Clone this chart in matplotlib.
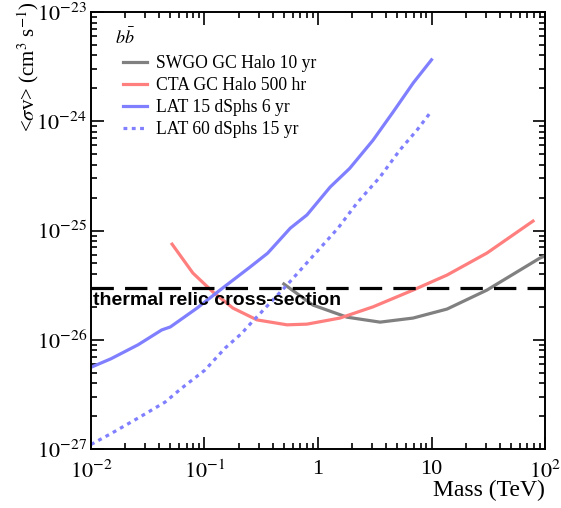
import matplotlib.pyplot as plt
from matplotlib.ticker import LogLocator, FixedLocator, FixedFormatter, NullFormatter

plt.rcParams['font.family'] = ['Liberation Serif', 'DejaVu Serif']
plt.rcParams['mathtext.fontset'] = 'stix'

# LAT 15 dSphs 6 yr
lat15_mass = [0.01, 0.015, 0.026, 0.042, 0.05, 0.086, 0.137, 0.25, 0.36, 0.57, 0.8, 1.28, 1.9, 3.05, 4.6, 6.9, 10]
lat15_sv = [5.6e-27, 6.7e-27, 9.0e-27, 1.23e-26, 1.31e-26, 1.95e-26, 2.85e-26, 4.6e-26, 6.2e-26,
            1.05e-25, 1.39e-25, 2.5e-25, 3.7e-25, 6.7e-25, 1.22e-24, 2.24e-24, 3.65e-24]

# LAT 60 dSphs 15 yr
lat60_mass = [0.01, 0.0153, 0.026, 0.045, 0.063, 0.101, 0.152, 0.214, 0.237, 0.533, 1.5, 2.21, 3.52, 5.27, 7.45, 10]
lat60_sv = [1.1e-27, 1.4e-27, 1.92e-27, 2.69e-27, 3.61e-27, 5.28e-27, 8.4e-27, 1.15e-26, 1.3e-26,
            3.17e-26, 1.05e-25, 1.79e-25, 3.09e-25, 5.46e-25, 8.3e-25, 1.24e-24]

# CTA GC Halo 500 hr
cta_mass = [0.0518, 0.079, 0.119, 0.178, 0.29, 0.533, 0.8, 1.56, 3.05, 6.88, 13.7, 30.8, 78.4]
cta_sv = [7.5e-26, 4.08e-26, 2.73e-26, 1.95e-26, 1.52e-26, 1.37e-26, 1.39e-26, 1.58e-26,
          2.0e-26, 2.85e-26, 3.91e-26, 6.22e-26, 1.22e-25]

# SWGO GC Halo 10 yr
swgo_mass = [0.5, 0.9, 1.8, 3.52, 6.88, 13.7, 30.8, 90.3, 100]
swgo_sv = [3.24e-26, 2.08e-26, 1.61e-26, 1.45e-26, 1.58e-26, 1.91e-26, 2.85e-26, 5.6e-26, 5.85e-26]

thermal_sv = 3e-26

fig = plt.figure(figsize=(5.61, 5.08), dpi=100)
ax = fig.add_axes([0.1622, 0.1161, 0.8093, 0.8603])

ax.plot(swgo_mass, swgo_sv, color='#808080', lw=2.3, label='SWGO GC Halo 10 yr')
ax.plot(cta_mass, cta_sv, color='#ff7f7f', lw=2.3, label='CTA GC Halo 500 hr')
ax.plot(lat15_mass, lat15_sv, color='#7f7fff', lw=2.3, label='LAT 15 dSphs 6 yr')
ax.plot(lat60_mass, lat60_sv, color='#7f7fff', lw=2.3, ls=(0, (1.2, 1.4)), label='LAT 60 dSphs 15 yr')
ax.axhline(thermal_sv, color='black', lw=2.3, ls=(0, (7, 3.5)))
ax.text(0.0105, 2.75e-26, 'thermal relic cross-section', family=['Liberation Sans', 'DejaVu Sans'],
        fontweight='bold', fontsize=14, va='top', ha='left')

ax.set_xscale('log')
ax.set_yscale('log')
ax.set_xlim(0.01, 100)
ax.set_ylim(1e-27, 1e-23)

ax.xaxis.set_major_locator(FixedLocator([0.01, 0.1, 1, 10, 100]))
ax.xaxis.set_major_formatter(FixedFormatter(['$10^{-2}$', '$10^{-1}$', '1', '10', '$10^{2}$']))
ax.xaxis.set_minor_locator(LogLocator(base=10, subs=range(2, 10), numticks=20))
ax.xaxis.set_minor_formatter(NullFormatter())
ax.yaxis.set_major_locator(FixedLocator([1e-27, 1e-26, 1e-25, 1e-24, 1e-23]))
ax.yaxis.set_major_formatter(FixedFormatter(['$10^{-27}$', '$10^{-26}$', '$10^{-25}$', '$10^{-24}$', '$10^{-23}$']))
ax.yaxis.set_minor_locator(LogLocator(base=10, subs=range(2, 10), numticks=20))
ax.yaxis.set_minor_formatter(NullFormatter())

ax.tick_params(which='both', direction='in', top=True, right=True, width=1.2, labelsize=16)
ax.tick_params(which='major', length=9)
ax.tick_params(which='minor', length=4.5)
ax.tick_params(axis='x', pad=8)
ax.tick_params(axis='y', pad=3)
for s in ax.spines.values():
    s.set_linewidth(1.4)

ax.set_xlabel('Mass (TeV)', fontsize=17, loc='right', labelpad=-2)
fig.text(0.05, 0.997, r'<$\sigma$v> (cm$^{3}$ s$^{-1}$)', rotation=90, fontsize=15, ha='center', va='top')

ax.text(0.053, 0.94, r'$b\bar{b}$', transform=ax.transAxes, fontsize=13, ha='left', va='center')
ax.legend(loc='upper left', bbox_to_anchor=(0.055, 0.917), frameon=False, fontsize=12.7,
          handlelength=1.35, handletextpad=0.5, labelspacing=0.28, borderaxespad=0)

fig.savefig('out.png', dpi=100)
